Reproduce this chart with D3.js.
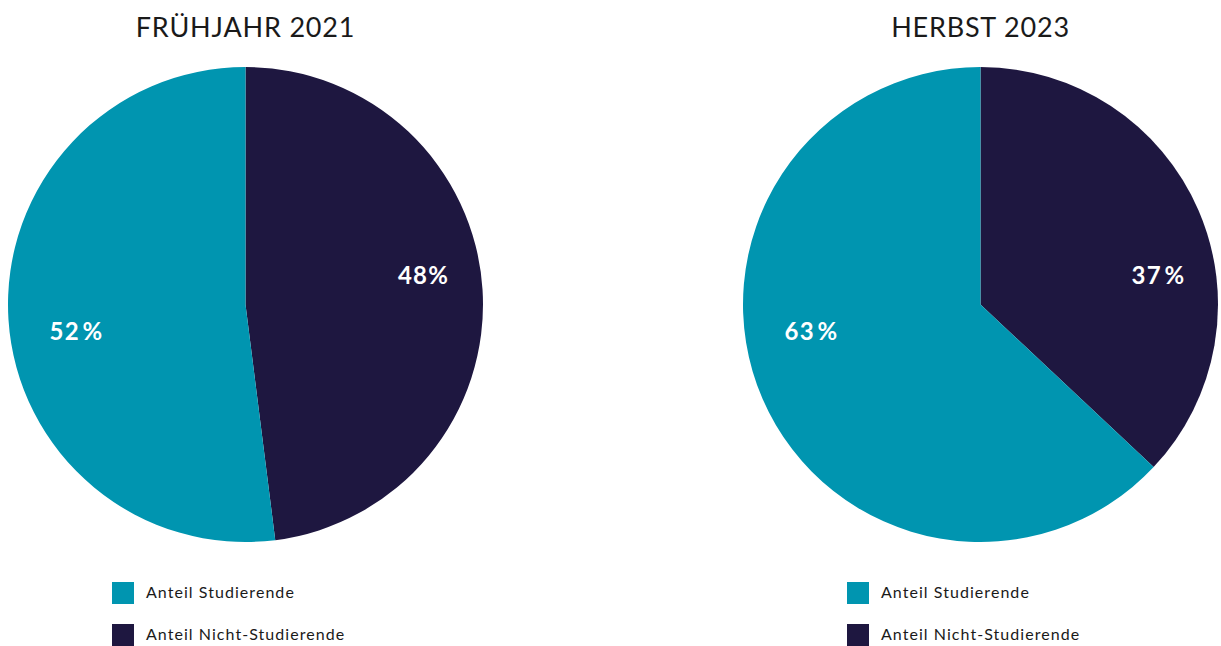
<!DOCTYPE html>
<html>
<head>
<meta charset="utf-8">
<script src="https://cdn.jsdelivr.net/npm/d3@7"></script>
<style>
  html, body { margin: 0; padding: 0; background: #fff; }
  svg { display: block; font-family: "Lato", "Open Sans", sans-serif; }
</style>
</head>
<body>
<svg id="chart" width="1221" height="646"></svg>
<script>
// Survey periods and shares (percent)
const periods = ["FRÜHJAHR 2021", "HERBST 2023"];
const categories = ["Anteil Nicht-Studierende", "Anteil Studierende"];
const nichtStudierende = [48, 37];
const studierende = [52, 63];
// Percent sign separators as printed (narrow space or none)
const nichtSep = ["", "\u200a"];
const studSep = ["\u200a", "\u200a"];
const legendOrder = ["Anteil Studierende", "Anteil Nicht-Studierende"];

const colors = d3.scaleOrdinal()
  .domain(categories)
  .range(["#1e1740", "#0095b0"]);

const svg = d3.select("#chart");
const centersX = [245.5, 980.5];
const centerY = 304.5;
const radius = 237.5;

const pie = d3.pie().sort(null).value(d => d.value);
const arc = d3.arc().innerRadius(0).outerRadius(radius);

periods.forEach((period, i) => {
  const data = [
    { key: categories[0], value: nichtStudierende[i], sep: nichtSep[i] },
    { key: categories[1], value: studierende[i], sep: studSep[i] }
  ];
  const cx = centersX[i];
  const g = svg.append("g").attr("transform", `translate(${cx},${centerY})`);

  g.selectAll("path")
    .data(pie(data))
    .join("path")
    .attr("d", arc)
    .attr("fill", d => colors(d.data.key));

  // Percentage labels: right-hand slice and left-hand slice
  const labelPos = [[178, -21], [-169, 35]];
  g.selectAll("text.val")
    .data(data)
    .join("text")
    .attr("class", "val")
    .attr("x", (d, j) => labelPos[j][0])
    .attr("y", (d, j) => labelPos[j][1])
    .attr("text-anchor", "middle")
    .attr("fill", "#fff")
    .attr("font-weight", 700)
    .attr("font-size", 24)
    .attr("letter-spacing", 1.2)
    .text(d => d.value + d.sep + "%");

  // Title
  svg.append("text")
    .attr("x", cx)
    .attr("y", 37)
    .attr("text-anchor", "middle")
    .attr("font-size", 27)
    .attr("fill", "#1a1a1a")
    .attr("letter-spacing", 0.8)
    .text(period);

  // Legend
  const lx = cx - 133.5;
  const leg = svg.append("g");
  legendOrder.forEach((name, k) => {
    const y = 582 + k * 42;
    leg.append("rect")
      .attr("x", lx).attr("y", y)
      .attr("width", 22).attr("height", 22)
      .attr("fill", colors(name));
    leg.append("text")
      .attr("x", lx + 34).attr("y", y + 16)
      .attr("font-size", 16)
      .attr("letter-spacing", 1.05)
      .attr("fill", "#1a1a1a")
      .text(name);
  });
});
</script>
</body>
</html>
